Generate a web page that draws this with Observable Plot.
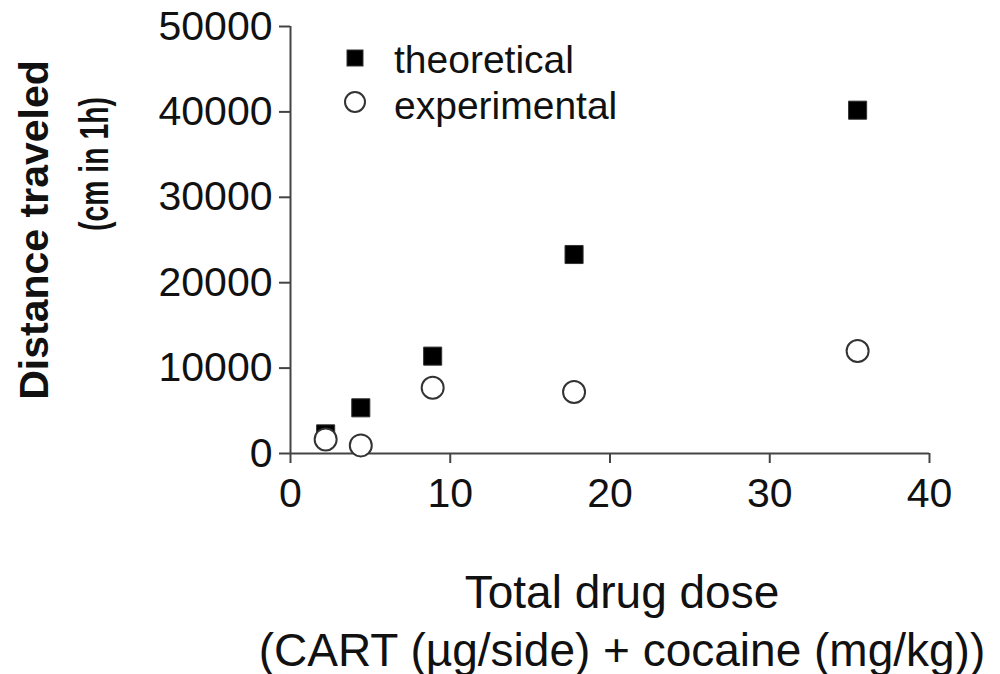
<!DOCTYPE html>
<html>
<head>
<meta charset="utf-8">
<script src="https://cdn.jsdelivr.net/npm/d3@7"></script>
<script src="https://cdn.jsdelivr.net/npm/@observablehq/plot@0.6"></script>
<style>
  html, body { margin: 0; padding: 0; background: #fff; }
  #wrap { position: relative; width: 1000px; height: 674px; font-family: "Liberation Sans", Arial, sans-serif; }
  .leg { position: absolute; font-size: 39px; color: #111; line-height: 1; white-space: nowrap; }
  .mk { position: absolute; }
</style>
</head>
<body>
<div id="wrap"></div>
<script>
// Data
const doses = [2.2, 4.4, 8.9, 17.75, 35.5];
const theoretical = [2300, 5350, 11400, 23300, 40200];
const experimental = [1650, 950, 7700, 7200, 12000];
const xTicks = [0, 10, 20, 30, 40];
const yTicks = [0, 10000, 20000, 30000, 40000, 50000];
const seriesNames = ["theoretical", "experimental"];
const xLabel = "Total drug dose\n(CART (\u00b5g/side) + cocaine (mg/kg))";
const yLabel1 = "Distance traveled";
const yLabel2 = "(cm in 1h)";

const theo = doses.map((d, i) => ({dose: d, value: theoretical[i]}));
const expe = doses.map((d, i) => ({dose: d, value: experimental[i]}));

const axisColor = "#444";

const chart = Plot.plot({
  width: 1000,
  height: 674,
  marginLeft: 290,
  marginRight: 71,
  marginTop: 26,
  marginBottom: 221,
  style: {fontFamily: "Liberation Sans, Arial, sans-serif", background: "white", color: "#111", overflow: "visible"},
  x: {domain: [0, 40], label: null},
  y: {domain: [0, 50000], label: null},
  marks: [
    Plot.axisX({ticks: xTicks, tickSize: 10, tickPadding: 14, fontSize: 41, stroke: axisColor, strokeWidth: 2, tickFormat: d => String(d), label: null}),
    Plot.axisY({ticks: yTicks, tickSize: 11, tickPadding: 7, fontSize: 41, stroke: axisColor, strokeWidth: 2, tickFormat: d => String(d), label: null}),
    Plot.ruleY([0], {stroke: axisColor, strokeWidth: 2}),
    Plot.ruleX([0], {stroke: axisColor, strokeWidth: 2}),
    Plot.dot(theo, {x: "dose", y: "value", symbol: "square", r: 10.2, fill: "#000", stroke: "#333", strokeWidth: 1}),
    Plot.dot(expe, {x: "dose", y: "value", symbol: "circle", r: 11, fill: "#fff", stroke: "#333", strokeWidth: 2}),
    Plot.text([yLabel1], {frameAnchor: "left", rotate: -90, dx: -256, dy: -10, fontSize: 41, fontWeight: "bold", lineAnchor: "middle", fill: "#111", textAnchor: "middle"}),
    Plot.text([yLabel2], {frameAnchor: "left", rotate: -90, dx: -196, dy: -76, fontSize: 41, fontWeight: "bold", lineAnchor: "middle", fill: "#111", textAnchor: "middle"}),
    Plot.text([xLabel], {frameAnchor: "bottom", dx: 12, dy: 114, fontSize: 46, lineHeight: 1.25, lineAnchor: "top", fill: "#111", textAnchor: "middle"})
  ]
});

// the second y-label line is set narrow in the reference
d3.select(chart).selectAll("text").filter(function() { return this.textContent === yLabel2; })
  .attr("textLength", 134).attr("lengthAdjust", "spacingAndGlyphs");

const wrap = document.getElementById("wrap");
wrap.appendChild(chart);

// Legend (inside the plot area, top-left)
const NS = "http://www.w3.org/2000/svg";
function legendItem(name, idx) {
  const sw = document.createElementNS(NS, "svg");
  sw.setAttribute("width", 26);
  sw.setAttribute("height", 26);
  sw.setAttribute("class", "mk");
  sw.style.left = "342px";
  sw.style.top = (idx === 0 ? 45 : 89) + "px";
  if (idx === 0) {
    const r = document.createElementNS(NS, "rect");
    r.setAttribute("x", 5); r.setAttribute("y", 5); r.setAttribute("width", 16); r.setAttribute("height", 16);
    r.setAttribute("fill", "#000"); r.setAttribute("stroke", "#333");
    sw.appendChild(r);
  } else {
    const c = document.createElementNS(NS, "circle");
    c.setAttribute("cx", 13); c.setAttribute("cy", 13); c.setAttribute("r", 10);
    c.setAttribute("fill", "#fff"); c.setAttribute("stroke", "#333"); c.setAttribute("stroke-width", 2);
    sw.appendChild(c);
  }
  wrap.appendChild(sw);
  const t = document.createElement("div");
  t.className = "leg";
  t.style.left = "394px";
  t.style.top = (idx === 0 ? 40 : 86) + "px";
  t.textContent = name;
  wrap.appendChild(t);
}
seriesNames.forEach(legendItem);
</script>
</body>
</html>
